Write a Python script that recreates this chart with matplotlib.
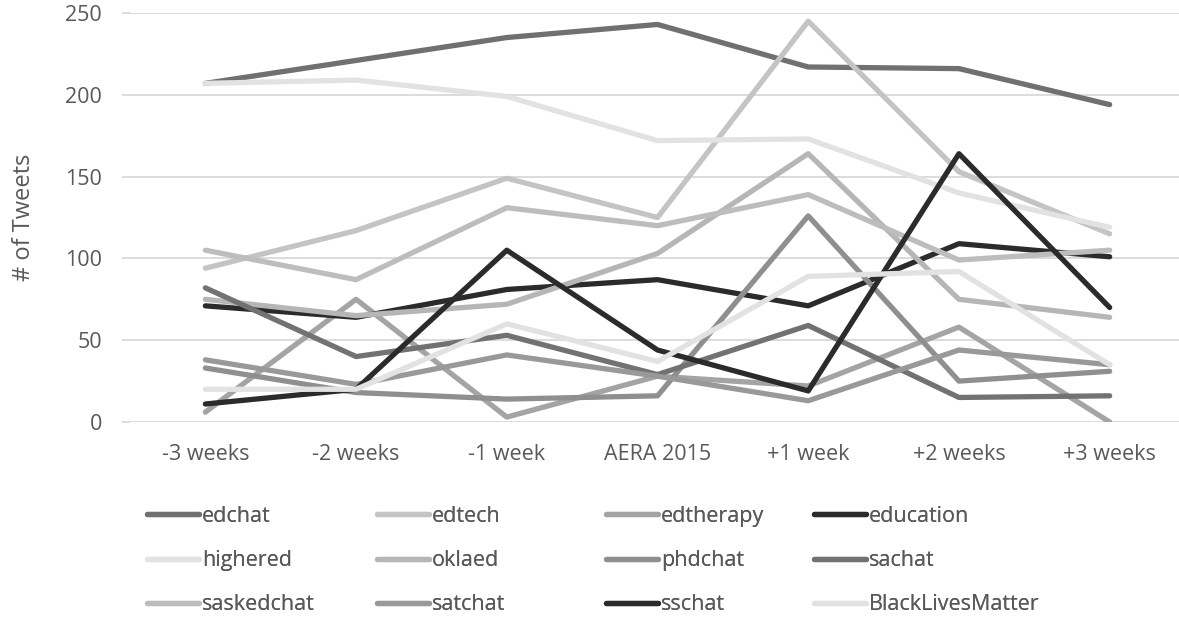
import matplotlib.pyplot as plt
from matplotlib.lines import Line2D

# weekly tweet counts per hashtag around AERA 2015
weeks = ['-3 weeks', '-2 weeks', '-1 week', 'AERA 2015', '+1 week', '+2 weeks', '+3 weeks']

edchat = [207, 221, 235, 243, 217, 216, 194]
edtech = [94, 117, 149, 125, 245, 153, 115]
edtherapy = [6, 75, 3, 28, 22, 58, 0]
education = [71, 64, 81, 87, 71, 109, 101]
highered = [207, 209, 199, 172, 173, 140, 119]
oklaed = [75, 65, 72, 103, 164, 75, 64]
phdchat = [33, 18, 14, 16, 126, 25, 31]
sachat = [82, 40, 53, 29, 59, 15, 16]
saskedchat = [105, 87, 131, 120, 139, 99, 105]
satchat = [38, 23, 41, 28, 13, 44, 35]
sschat = [11, 20, 105, 44, 19, 164, 70]
blm = [20, 20, 60, 37, 89, 92, 35]

names = ['edchat', 'edtech', 'edtherapy', 'education', 'highered', 'oklaed',
         'phdchat', 'sachat', 'saskedchat', 'satchat', 'sschat', 'BlackLivesMatter']
series = [edchat, edtech, edtherapy, education, highered, oklaed,
          phdchat, sachat, saskedchat, satchat, sschat, blm]
greys = ['#707070', '#c4c4c4', '#a4a4a4', '#2b2b2b', '#e2e2e2', '#b6b6b6',
         '#8f8f8f', '#727272', '#bdbdbd', '#999999', '#2b2b2b', '#e2e2e2']

plt.rcParams['font.family'] = ['Open Sans', 'DejaVu Sans']
txt = '#595959'

fig = plt.figure(figsize=(11.79, 6.25), dpi=100)
ax = fig.add_axes([130 / 1179, 203 / 625, 1049 / 1179, 409 / 625])

x = list(range(len(weeks)))
for name, vals, c in zip(names, series, greys):
    ax.plot(x, vals, color=c, lw=3.8, solid_capstyle='round',
            solid_joinstyle='round', label=name)

ax.set_xlim(-0.5, 6.46)
ax.set_ylim(0, 250)
ax.set_yticks(range(0, 251, 50))
ax.set_xticks(x)
ax.set_xticklabels(weeks)
ax.grid(axis='y', color='#d9d9d9', lw=1.3)
ax.set_axisbelow(True)
for s in ax.spines.values():
    s.set_visible(False)
ax.tick_params(axis='x', length=0, pad=16, labelsize=15.5, labelcolor=txt)
ax.tick_params(axis='y', length=6, width=1.3, color='#d9d9d9', pad=14,
               labelsize=15.5, labelcolor=txt)
ax.set_ylabel('# of Tweets', fontsize=17, color=txt)
ax.yaxis.set_label_coords(-0.09, 0.5)

# legend: 4 equal-width columns filled row by row
col_x = [147, 377, 606, 814]
for j in range(4):
    hs = [Line2D([], [], color=greys[i], lw=3.8, solid_capstyle='round')
          for i in range(j, 12, 4)]
    labs = [names[i] for i in range(j, 12, 4)]
    leg = fig.legend(hs, labs, loc='upper left',
                     bbox_to_anchor=(col_x[j] / 1179, (625 - 506) / 625),
                     frameon=False, fontsize=15.5, handlelength=2.4,
                     handletextpad=0.15, labelspacing=1.07, borderpad=0,
                     borderaxespad=0, labelcolor=txt)
    fig.add_artist(leg)

fig.savefig('out.png', dpi=100)
